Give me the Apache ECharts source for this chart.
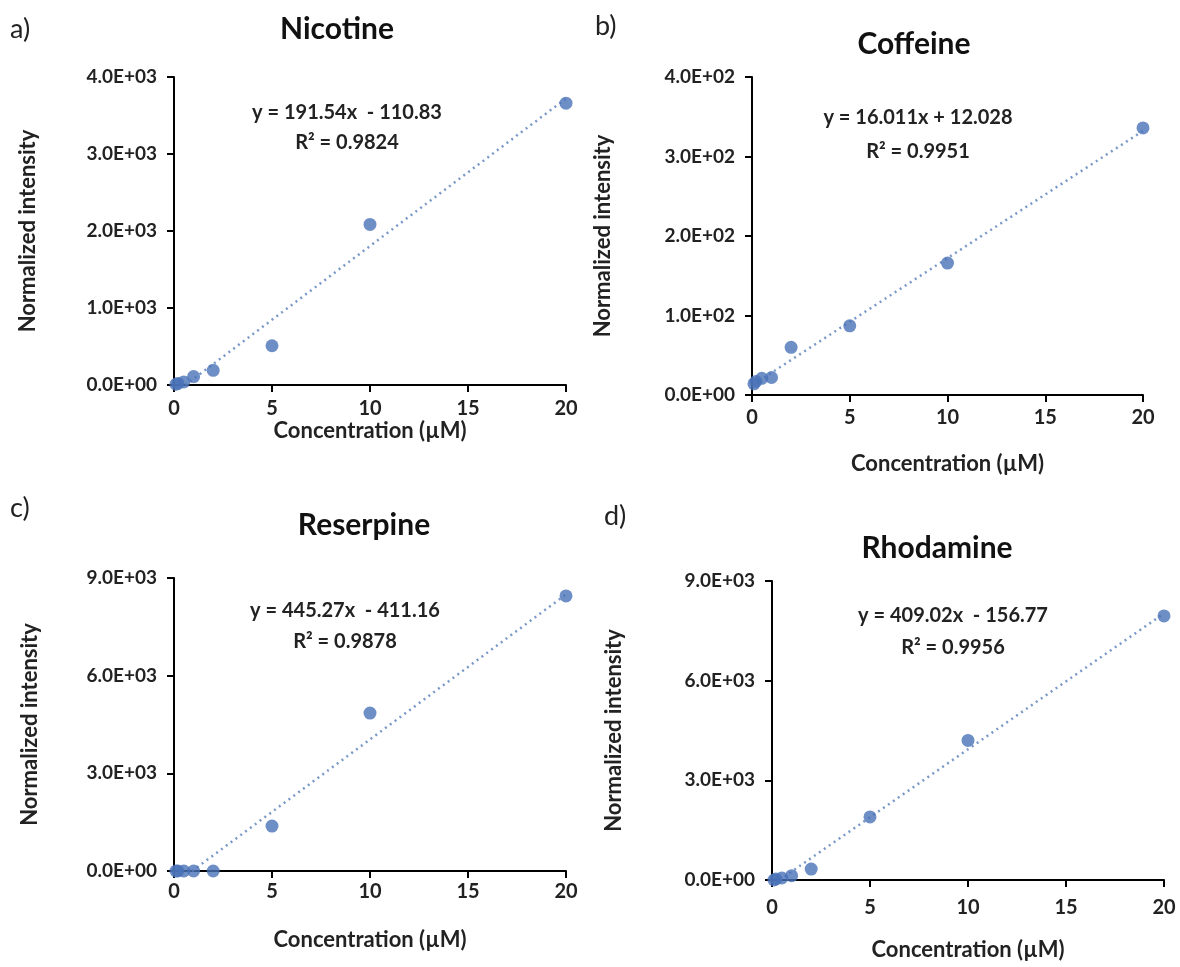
<!DOCTYPE html>
<html>
<head>
<meta charset="utf-8">
<script src="https://cdn.jsdelivr.net/npm/echarts@6/dist/echarts.min.js"></script>
<style>
html,body{margin:0;padding:0;background:#fff;}
#c{width:1180px;height:967px;}
</style>
</head>
<body>
<div id="c"></div>
<script>
// Data
const concentrations = [0.1, 0.2, 0.5, 1, 2, 5, 10, 20];
const nicotine  = [10, 20, 40, 110, 190, 510, 2085, 3660];
const coffeine  = [14, 17, 21, 22, 60, 87, 166, 336];
const reserpine = [0, 0, 0, 0, 0, 1380, 4850, 8450];
const rhodamine = [0, 30, 60, 130, 330, 1900, 4200, 7950];
const titles = ['Nicotine', 'Coffeine', 'Reserpine', 'Rhodamine'];
const letters = ['a)', 'b)', 'c)', 'd)'];
const slopes = [191.54, 16.011, 445.27, 409.02];
const intercepts = [-110.83, 12.028, -411.16, -156.77];
const equations = ['y = 191.54x  - 110.83', 'y = 16.011x + 12.028', 'y = 445.27x  - 411.16', 'y = 409.02x  - 156.77'];
const r2Labels = ['R\u00B2 = 0.9824', 'R\u00B2 = 0.9951', 'R\u00B2 = 0.9878', 'R\u00B2 = 0.9956'];
const yMax = [4000, 400, 9000, 9000];
const yInterval = [1000, 100, 3000, 3000];

const seriesValues = [nicotine, coffeine, reserpine, rhodamine];

// Layout
const grids = [
  {left: 174, top: 77, width: 392, height: 308},
  {left: 752, top: 77, width: 391, height: 318},
  {left: 174, top: 578, width: 392, height: 293},
  {left: 772, top: 581, width: 392, height: 299}
];
const titlePos = [[337, 29], [914, 44], [364, 525], [937, 548]];
const letterPos = [[10, 29], [595, 26], [10, 508], [604, 516]];
const eqPos = [[347, 113, 143], [918, 118, 152], [345, 611, 642], [953, 616, 648]];
const xNameGap = [34, 58, 58, 59];
const xLabelMargin = [14, 13, 11, 18];
const yNameGap = [135, 138, 133, 147];

const FONT = 'Lato, "Open Sans", sans-serif';
const MARK = '#4a72b8';
const TREND = '#7a98c8';

function fmtE(v) {
  let s = Number(v).toExponential(1);
  let [m, e] = s.split('e');
  let sign = e[0] === '-' ? '-' : '+';
  let d = e.replace(/[+-]/, '');
  if (d.length < 2) d = '0' + d;
  return m + 'E' + sign + d;
}

const chart = echarts.init(document.getElementById('c'), null, {renderer: 'canvas'});

const gridOpts = [], xAxes = [], yAxes = [], series = [], graphics = [];
for (let i = 0; i < 4; i++) {
  gridOpts.push(Object.assign({containLabel: false}, grids[i]));
  xAxes.push({
    type: 'value', gridIndex: i, min: 0, max: 20, interval: 5,
    name: 'Concentration (\u00B5M)', nameLocation: 'middle', nameGap: xNameGap[i],
    nameTextStyle: {fontFamily: FONT, fontWeight: 'bold', fontSize: 22, color: '#222'},
    axisLine: {lineStyle: {color: '#000', width: 2}},
    axisTick: {show: true, inside: false, length: 7, lineStyle: {color: '#000', width: 2}},
    axisLabel: {fontFamily: FONT, fontWeight: 'bold', fontSize: 20, color: '#222', margin: xLabelMargin[i]},
    splitLine: {show: false}
  });
  yAxes.push({
    type: 'value', gridIndex: i, min: 0, max: yMax[i], interval: yInterval[i],
    name: 'Normalized intensity', nameLocation: 'middle', nameGap: yNameGap[i], nameRotate: 90,
    nameTextStyle: {fontFamily: FONT, fontWeight: 'bold', fontSize: 22, color: '#222'},
    axisLine: {show: true, lineStyle: {color: '#000', width: 2}},
    axisTick: {show: true, inside: false, length: 7, lineStyle: {color: '#000', width: 2}},
    axisLabel: {fontFamily: FONT, fontWeight: 'bold', fontSize: 19, color: '#222', margin: 17, formatter: fmtE},
    splitLine: {show: false}
  });
  const m = slopes[i], b = intercepts[i];
  let x0 = concentrations[0];
  if (m * x0 + b < 0) x0 = -b / m;
  const x1 = concentrations[concentrations.length - 1];
  series.push({
    type: 'line', xAxisIndex: i, yAxisIndex: i, showSymbol: false, symbol: 'none',
    data: [[x0, m * x0 + b], [x1, m * x1 + b]],
    lineStyle: {color: TREND, width: 2.5, type: [2, 4]}, z: 2, silent: true
  });
  series.push({
    type: 'scatter', xAxisIndex: i, yAxisIndex: i, symbolSize: 13,
    data: concentrations.map((c, k) => [c, seriesValues[i][k]]),
    itemStyle: {color: MARK}, z: 3
  });
  graphics.push({type: 'text', x: titlePos[i][0], y: titlePos[i][1],
    style: {text: titles[i], font: 'bold 30px ' + FONT, fill: '#111', textAlign: 'center', textVerticalAlign: 'middle'}});
  graphics.push({type: 'text', x: letterPos[i][0], y: letterPos[i][1],
    style: {text: letters[i], font: '27px ' + FONT, fill: '#222', textVerticalAlign: 'middle'}});
  graphics.push({type: 'text', x: eqPos[i][0], y: eqPos[i][1],
    style: {text: equations[i], font: 'bold 20px ' + FONT, fill: '#222', textAlign: 'center', textVerticalAlign: 'middle'}});
  graphics.push({type: 'text', x: eqPos[i][0], y: eqPos[i][2],
    style: {text: r2Labels[i], font: 'bold 20px ' + FONT, fill: '#222', textAlign: 'center', textVerticalAlign: 'middle'}});
}

chart.setOption({
  animation: false,
  backgroundColor: '#fff',
  grid: gridOpts,
  xAxis: xAxes,
  yAxis: yAxes,
  series: series,
  graphic: graphics
});
</script>
</body>
</html>
